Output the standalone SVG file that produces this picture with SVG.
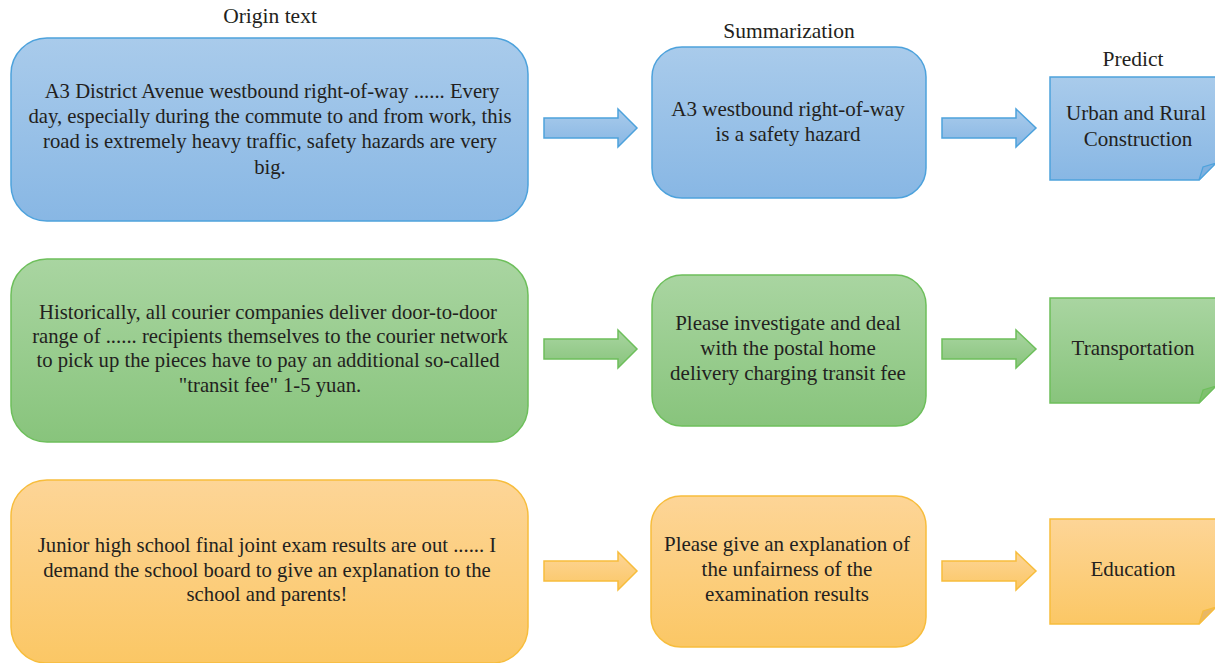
<svg xmlns="http://www.w3.org/2000/svg" width="1215" height="663" viewBox="0 0 1215 663">
<defs>
<linearGradient id="gb" x1="0" y1="0" x2="0" y2="1"><stop offset="0" stop-color="#a9cbeb"/><stop offset="1" stop-color="#88b7e4"/></linearGradient>
<linearGradient id="gg" x1="0" y1="0" x2="0" y2="1"><stop offset="0" stop-color="#a9d5a1"/><stop offset="1" stop-color="#88c47c"/></linearGradient>
<linearGradient id="go" x1="0" y1="0" x2="0" y2="1"><stop offset="0" stop-color="#fdd597"/><stop offset="1" stop-color="#fbc765"/></linearGradient>
<style>
text{font-family:"Liberation Serif","DejaVu Serif",serif;font-size:21px;fill:#231f20;text-anchor:middle}
.w{font-size:20.7px}
.b{fill:url(#gb);stroke:#4da2dc;stroke-width:1.5}
.g{fill:url(#gg);stroke:#6dbf5b;stroke-width:1.5}
.o{fill:url(#go);stroke:#f7bd3c;stroke-width:1.5}
.fb{fill:#7fb0df;stroke:#4da2dc;stroke-width:1.2}
.fg{fill:#7fc06f;stroke:#6dbf5b;stroke-width:1.2}
.fo{fill:#e8b766;stroke:#f7bd3c;stroke-width:1.2}
.hdr{font-size:21.5px}
</style>
</defs>
<g id="headers">
<text class="hdr" x="270" y="23">Origin text</text>
<text class="hdr" x="789" y="38">Summarization</text>
<text class="hdr" x="1133" y="66">Predict</text>
</g>
<g id="connectors">
<path class="b" d="M544,118 H618 V109 L637,128 L618,147 V138 H544 Z"/>
<path class="b" d="M942,118 H1016 V109 L1036,128 L1016,147 V138 H942 Z"/>
<path class="g" d="M544,339 H618 V330 L637,349 L618,368 V359 H544 Z"/>
<path class="g" d="M942,339 H1016 V330 L1036,349 L1016,368 V359 H942 Z"/>
<path class="o" d="M544,561 H618 V552 L637,571 L618,590 V581 H544 Z"/>
<path class="o" d="M942,561 H1016 V552 L1036,571 L1016,590 V581 H942 Z"/>
</g>
<g id="origin1" class="w">
<rect class="b" x="11" y="38" width="517" height="183" rx="36"/>
<text class="w" x="272" y="98">A3 District Avenue westbound right-of-way ...... Every</text>
<text class="w" x="270" y="123">day, especially during the commute to and from work, this</text>
<text class="w" x="270" y="148">road is extremely heavy traffic, safety hazards are very</text>
<text class="w" x="270" y="174">big.</text>
</g>
<g id="summary1">
<rect class="b" x="652" y="47" width="274" height="151" rx="30"/>
<text x="788" y="116">A3 westbound right-of-way</text>
<text x="788" y="141">is a safety hazard</text>
</g>
<g id="predict1">
<path class="b" d="M1050,77 H1216 V163 L1199,180 H1050 Z"/>
<path class="fb" d="M1216,163 L1199,180 L1203,167 Z"/>
<text x="1136" y="120">Urban and Rural</text>
<text x="1138" y="146">Construction</text>
</g>
<g id="origin2">
<rect class="g" x="11" y="259" width="517" height="183" rx="36"/>
<text class="w" x="268" y="319">Historically, all courier companies deliver door-to-door</text>
<text class="w" x="270" y="343">range of ...... recipients themselves to the courier network</text>
<text class="w" x="268" y="367">to pick up the pieces have to pay an additional so-called</text>
<text class="w" x="270" y="392">"transit fee" 1-5 yuan.</text>
</g>
<g id="summary2">
<rect class="g" x="652" y="275" width="274" height="151" rx="30"/>
<text x="788" y="330">Please investigate and deal</text>
<text x="788" y="355">with the postal home</text>
<text x="788" y="380">delivery charging transit fee</text>
</g>
<g id="predict2">
<path class="g" d="M1050,298 H1216 V386 L1199,403 H1050 Z"/>
<path class="fg" d="M1216,386 L1199,403 L1203,390 Z"/>
<text x="1133" y="355">Transportation</text>
</g>
<g id="origin3">
<rect class="o" x="11" y="480" width="517" height="183" rx="36"/>
<text class="w" x="267" y="552">Junior high school final joint exam results are out ...... I</text>
<text class="w" x="267" y="577">demand the school board to give an explanation to the</text>
<text class="w" x="267" y="601">school and parents!</text>
</g>
<g id="summary3">
<rect class="o" x="651" y="496" width="275" height="151" rx="30"/>
<text x="787" y="551">Please give an explanation of</text>
<text x="787" y="576">the unfairness of the</text>
<text x="787" y="601">examination results</text>
</g>
<g id="predict3">
<path class="o" d="M1050,519 H1216 V607 L1199,624 H1050 Z"/>
<path class="fo" d="M1216,607 L1199,624 L1203,611 Z"/>
<text x="1133" y="576">Education</text>
</g>
</svg>
